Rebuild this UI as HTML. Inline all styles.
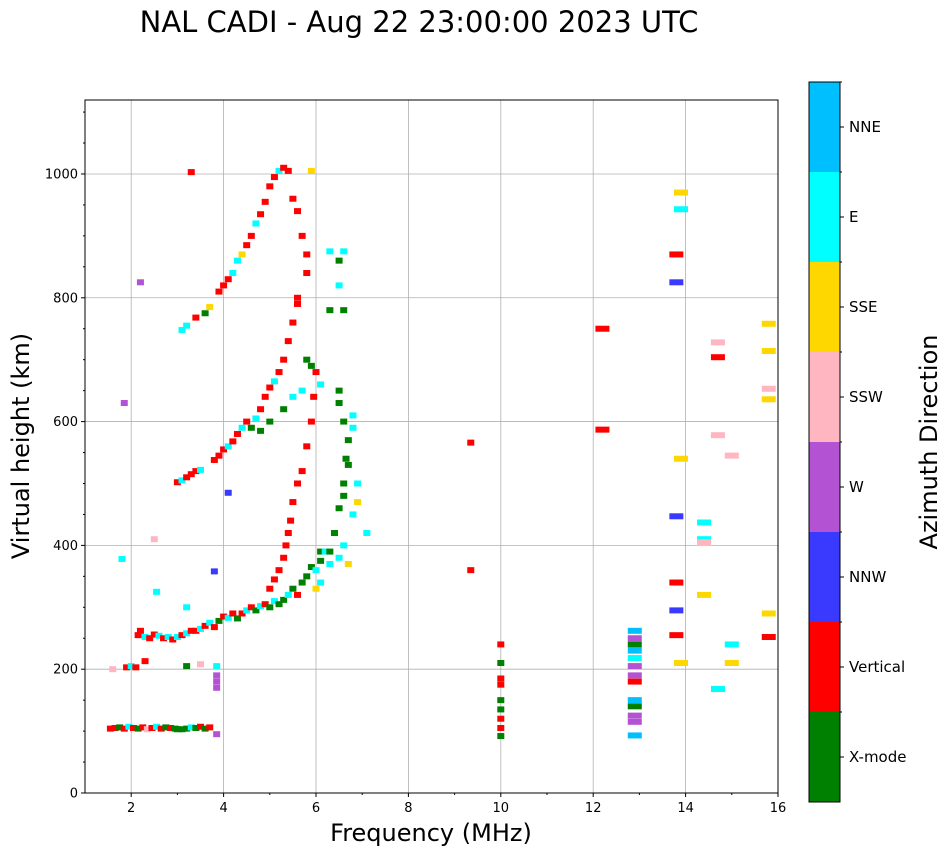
<!DOCTYPE html>
<html><head><meta charset="utf-8"><style>
body{margin:0;background:#fff;}
svg{display:block;font-family:"DejaVu Sans","Liberation Sans",sans-serif;}
</style></head><body>
<svg id="chart" width="951" height="856" xmlns="http://www.w3.org/2000/svg">
<text x="419" y="32" font-size="29" text-anchor="middle">NAL CADI - Aug 22 23:00:00 2023 UTC</text>
<g id="grid"></g>
<g id="marks"></g>
<rect x="85" y="100" width="693" height="693" fill="none" stroke="#000" stroke-width="1"/>
<g id="axes"></g>
<text x="431" y="841" font-size="24" text-anchor="middle">Frequency (MHz)</text>
<text transform="translate(29,446) rotate(-90)" font-size="24" text-anchor="middle">Virtual height (km)</text>
<g id="cbar"></g>
<text transform="translate(937,442) rotate(-90)" font-size="24" text-anchor="middle">Azimuth Direction</text>
</svg>
<script>
const dirNames=["X-mode","Vertical","NNW","W","SSW","SSE","E","NNE"];
const dirColors=["#008000","#ff0000","#3a3aff","#b452d4","#ffb6c1","#ffd700","#00ffff","#00bfff"];
const xTicks=[2,4,6,8,10,12,14,16];
const yTicks=[0,200,400,600,800,1000];
const freqs=[1.55,1.65,1.75,1.85,1.95,2.05,2.15,2.25,2.35,2.45,2.55,2.65,2.75,2.85,2.95,3.0,3.1,3.2,3.3,3.4,3.5,3.6,3.7,
3.85,3.85,3.85,3.85,1.6,1.9,2.0,2.1,2.3,3.2,3.5,3.85,
2.15,2.2,2.3,2.4,2.5,2.6,2.7,2.8,2.9,3.0,3.1,3.2,3.3,3.4,3.5,3.6,3.7,3.8,3.9,4.0,4.1,4.2,4.3,4.4,4.5,4.6,4.7,4.8,4.9,5.0,5.1,5.2,5.3,5.4,5.5,5.6,5.7,5.8,5.9,6.0,6.1,6.1,6.2,
5.0,5.1,5.2,5.3,5.35,5.4,5.45,5.5,5.6,5.7,5.8,5.9,5.95,6.0,
6.3,6.4,6.5,6.6,6.65,6.7,6.5,6.5,6.6,6.7,6.6,6.8,6.8,6.9,6.8,6.6,6.5,6.7,6.9,7.1,6.3,6.1,6.0,
3.0,3.1,3.2,3.3,3.4,3.5,3.8,3.9,4.0,4.1,4.2,4.3,4.4,4.5,4.6,4.7,4.8,4.9,5.0,5.1,5.2,5.3,5.4,5.5,5.6,4.8,5.0,5.3,5.5,5.7,5.8,5.9,6.1,
3.1,3.2,3.4,3.6,3.7,3.9,4.0,4.1,4.2,4.3,4.4,4.5,4.6,4.7,4.8,4.9,5.0,5.1,5.2,5.3,5.4,5.5,5.6,3.3,5.9,5.7,5.8,6.3,6.6,6.5,6.3,6.6,6.5,5.8,5.6,
1.8,1.85,2.2,2.5,3.8,4.1,3.2,2.55,
10,10,10,10,10,10,10,10,10,
12.9,12.9,12.9,12.9,12.9,12.9,12.9,12.9,12.9,12.9,12.9,12.9,12.9,
12.2,12.2,9.35,9.35,13.8,13.8,13.8,13.8,13.8,13.8,13.9,13.9,13.9,13.9,14.4,14.4,14.4,14.4,14.7,14.7,14.7,14.7,15.0,15.0,15.0,15.8,15.8,15.8,15.8,15.8,15.8];
const heights=[104,105,106,104,107,105,104,106,103,105,107,104,106,105,104,103,103,104,106,105,107,104,106,
170,180,190,95,200,203,205,203,213,205,208,205,
255,262,252,250,256,254,250,252,248,252,255,258,262,262,265,270,275,268,278,285,283,290,282,290,295,300,295,302,305,300,310,305,312,320,330,320,340,350,365,360,375,390,390,
330,345,360,380,400,420,440,470,500,520,560,600,640,680,
390,420,460,500,540,570,630,650,600,530,480,610,590,500,450,400,380,370,470,420,370,340,330,
502,505,510,515,520,522,538,545,555,560,568,580,590,600,590,605,620,640,655,665,680,700,730,760,790,585,600,620,640,650,700,690,660,
748,755,768,775,785,810,820,830,840,860,870,885,900,920,935,955,980,995,1005,1010,1005,960,940,1003,1005,900,870,875,875,860,780,780,820,840,800,
378,630,825,410,358,485,300,325,
240,210,185,175,150,135,120,105,92,
262,250,240,230,218,205,190,180,150,140,125,115,93,
750,587,566,360,870,825,447,340,295,255,970,943,540,210,437,410,405,320,728,704,578,168,545,240,210,758,714,653,636,290,252];
const dirs=[1,1,0,1,6,1,0,1,4,1,6,1,0,1,0,0,0,0,6,0,1,0,1,
3,3,3,3,4,1,6,1,1,0,4,6,
1,1,6,1,1,6,1,6,1,6,1,6,1,1,6,1,6,1,0,1,6,1,0,1,6,1,0,6,1,0,6,0,0,6,0,1,0,0,0,6,0,0,6,
1,1,1,1,1,1,1,1,1,1,1,1,1,1,
0,0,0,0,0,0,0,0,0,0,0,6,6,6,6,6,6,5,5,6,6,6,5,
1,6,1,1,1,6,1,1,1,6,1,1,6,1,0,6,1,1,1,6,1,1,1,1,1,0,0,0,6,6,0,0,6,
6,6,1,0,5,1,1,1,6,6,5,1,1,6,1,1,1,1,6,1,1,1,1,1,5,1,1,6,6,0,0,0,6,1,1,
6,3,3,4,2,2,6,6,
1,0,1,1,0,0,1,1,0,
7,3,0,7,6,3,3,1,7,0,3,3,7,
1,1,1,1,1,2,2,1,2,1,5,6,5,5,6,6,4,5,4,1,4,6,4,6,5,5,5,4,5,5,1];
const X0=85,X1=778,Y0=793,Y1=100,FMIN=1,FMAX=16,HMIN=0,HMAX=1119.5;
const xs=f=>X0+(f-FMIN)/(FMAX-FMIN)*(X1-X0);
const ys=h=>Y0-(h-HMIN)/(HMAX-HMIN)*(Y0-Y1);
const NS="http://www.w3.org/2000/svg";
function mk(tag,attrs,parent){const e=document.createElementNS(NS,tag);for(const k in attrs)e.setAttribute(k,attrs[k]);parent.appendChild(e);return e;}
const grid=document.getElementById('grid'),axes=document.getElementById('axes'),marks=document.getElementById('marks'),cbar=document.getElementById('cbar');
xTicks.forEach(t=>{const x=xs(t);
 const g=mk('line',{x1:x,x2:x,y1:Y1,y2:Y0,stroke:'#b0b0b0','stroke-width':0.8},grid);
 
 
 mk('line',{x1:x,x2:x,y1:Y0,y2:Y0+4,stroke:'#000'},axes);
 const tx=mk('text',{x:x,y:Y0+19,'font-size':13,'text-anchor':'middle'},axes);tx.textContent=t;
 
 
 if(t>FMIN+1) mk('line',{x1:xs(t-1),x2:xs(t-1),y1:Y0,y2:Y0+2,stroke:'#000'},axes);
});
yTicks.forEach(t=>{const y=ys(t);
 const g=mk('line',{x1:X0,x2:X1,y1:y,y2:y,stroke:'#b0b0b0','stroke-width':0.8},grid);
 
 
 mk('line',{x1:X0-4,x2:X0,y1:y,y2:y,stroke:'#000'},axes);
 const tx=mk('text',{x:X0-7,y:y+4.5,'font-size':13,'text-anchor':'end'},axes);tx.textContent=t;
 
 
 [50,100,150].forEach(m=>{if(t+m<HMAX){const yy=ys(t+m);mk('line',{x1:X0-2,x2:X0,y1:yy,y2:yy,stroke:'#000'},axes);}});
});
for(let i=0;i<freqs.length;i++){
 const w=freqs[i]>=12?14:7;
 const r=mk('rect',{x:xs(freqs[i])-w/2,y:ys(heights[i])-3,width:w,height:6,fill:dirColors[dirs[i]]},marks);
 
 
}
const CB={x:809,y:82,w:31,h:720};const seg=CB.h/dirNames.length;
dirNames.forEach((n,i)=>{const y=CB.y+CB.h-(i+1)*seg;
 const r=mk('rect',{x:CB.x,y:y,width:CB.w,height:seg,fill:dirColors[i]},cbar);
 
 
 mk('line',{x1:CB.x+CB.w,x2:CB.x+CB.w+4,y1:y+seg/2,y2:y+seg/2,stroke:'#000'},cbar);
 mk('line',{x1:CB.x+CB.w,x2:CB.x+CB.w+2,y1:y,y2:y,stroke:'#000'},cbar);
 const t=mk('text',{x:CB.x+CB.w+9,y:y+seg/2+5,'font-size':15},cbar);t.textContent=n;
 
 
});
mk('rect',{x:CB.x,y:CB.y,width:CB.w,height:CB.h,fill:'none',stroke:'#000'},cbar);
</script>
</body></html>
